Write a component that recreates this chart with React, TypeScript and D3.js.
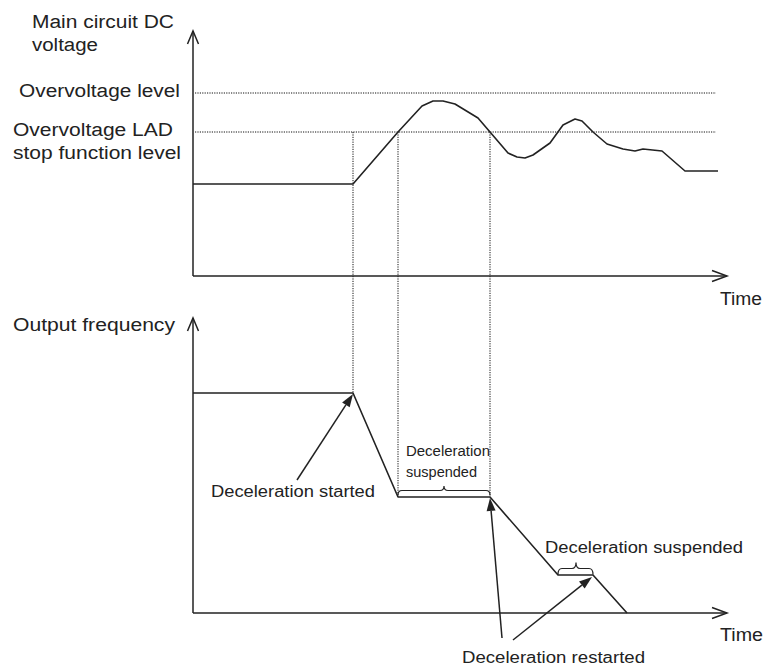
import React from "react";
import * as d3 from "d3";

// ---- data (time units, arbitrary voltage / frequency units) ----
const voltageTime = [0, 32, 41, 45.8, 48, 50, 52.4, 57, 59.4, 63, 64.8, 66.4, 68, 71.4, 74, 76.4, 77.8, 80, 82.8, 86, 88.4, 90, 93.8, 98.4, 105];
const voltageValue = [46, 46, 72, 85, 87.5, 87.5, 86, 79, 72, 61.5, 59.5, 59, 60.5, 66.5, 75.5, 78.5, 77.5, 72, 66, 63.5, 62.5, 63.5, 62.5, 52.5, 52.5];
const levelNames = ["Overvoltage level", "Overvoltage LAD stop function level"];
const levelValues = [91.5, 72];
const freqTime = [0, 32, 41, 59.4, 73, 80, 86.8];
const freqValue = [110, 110, 58, 58, 19, 19, 0];
const markerTimes = [32, 41, 59.4];
const suspendStart = [41, 73];
const suspendEnd = [59.4, 80];
const suspendFreq = [58, 19];

const INK = "#222";
const FONT = "'Liberation Sans', Arial, Helvetica, sans-serif";

export default function App() {
  const x = d3.scaleLinear().domain([0, 106.8]).range([193, 727]);
  const yV = d3.scaleLinear().domain([0, 100]).range([276, 76]);
  const yF = d3.scaleLinear().domain([0, 100]).range([613, 413]);

  const vLine = d3
    .line<number>()
    .x((_, i) => x(voltageTime[i]))
    .y((_, i) => yV(voltageValue[i]));
  const fLine = d3
    .line<number>()
    .x((_, i) => x(freqTime[i]))
    .y((_, i) => yF(freqValue[i]));

  const freqAt = (t: number) => {
    const i = freqTime.indexOf(t);
    if (i >= 0) return freqValue[i];
    return d3.scaleLinear().domain(freqTime).range(freqValue)(t);
  };

  const brace = (x1: number, x2: number, y: number, h: number, xm?: number) => {
    const m = xm ?? (x1 + x2) / 2;
    const r = Math.min(4, (m - x1) / 2);
    const half = h / 2;
    return `M${x1},${y} Q${x1},${y - half} ${x1 + r},${y - half} L${m - r},${y - half} Q${m},${y - half} ${m},${y - h} Q${m},${y - half} ${m + r},${y - half} L${x2 - r},${y - half} Q${x2},${y - half} ${x2},${y}`;
  };

  const arrow = (x1: number, y1: number, x2: number, y2: number, key: string) => {
    const ang = Math.atan2(y2 - y1, x2 - x1);
    const L = 13;
    const W = 4.5;
    const bx = x2 - L * Math.cos(ang);
    const by = y2 - L * Math.sin(ang);
    const px = -Math.sin(ang) * W;
    const py = Math.cos(ang) * W;
    return (
      <g key={key}>
        <line x1={x1} y1={y1} x2={bx} y2={by} stroke={INK} strokeWidth={1.5} />
        <path d={`M${x2},${y2} L${bx + px},${by + py} L${bx - px},${by - py} Z`} fill={INK} />
      </g>
    );
  };

  const axisArrows = (x0: number, yTop: number, yBase: number, xEnd: number, key: string) => (
    <g key={key} fill="none" stroke={INK} strokeWidth={1.5}>
      <line x1={x0} y1={yBase} x2={x0} y2={yTop} />
      <path d={`M${x0 - 5.5},${yTop + 13} L${x0},${yTop} L${x0 + 5.5},${yTop + 13}`} />
      <line x1={x0} y1={yBase} x2={xEnd} y2={yBase} />
      <path d={`M${xEnd - 15},${yBase - 5.5} L${xEnd},${yBase} L${xEnd - 15},${yBase + 5.5}`} />
    </g>
  );

  const txt = (s: string, tx: number, ty: number, size: number, len: number, key: string) => (
    <text
      key={key}
      x={tx}
      y={ty}
      fontSize={size}
      textLength={len}
      lengthAdjust="spacingAndGlyphs"
      fill={INK}
    >
      {s}
    </text>
  );

  const DOT = "1.2 1.2";

  return (
    <svg
      width={767}
      height={667}
      style={{ position: "absolute", left: 0, top: 0, background: "#fff" }}
      fontFamily={FONT}
    >
      <rect width={767} height={667} fill="#fff" />
      {/* level dotted lines */}
      {levelValues.map((v, i) => (
        <line
          key={levelNames[i]}
          x1={x(0.4)}
          x2={x(104.6)}
          y1={yV(v)}
          y2={yV(v)}
          stroke="#111"
          strokeWidth={1}
          strokeDasharray={DOT}
        />
      ))}
      {/* vertical dotted markers */}
      {markerTimes.map((t) => (
        <line
          key={"m" + t}
          x1={x(t)}
          x2={x(t)}
          y1={yV(levelValues[1])}
          y2={yF(freqAt(t))}
          stroke="#111"
          strokeWidth={1}
          strokeDasharray={DOT}
        />
      ))}
      {axisArrows(193, 31, 276, 727, "ax1")}
      {axisArrows(193, 318, 613, 727, "ax2")}
      <path d={vLine(voltageTime) ?? ""} fill="none" stroke={INK} strokeWidth={1.6} strokeLinejoin="round" />
      <path d={fLine(freqTime) ?? ""} fill="none" stroke={INK} strokeWidth={1.6} strokeLinejoin="round" />
      {/* braces */}
      <path d={brace(x(suspendStart[0]), x(suspendEnd[0]), yF(suspendFreq[0]) - 2, 9)} fill="none" stroke={INK} strokeWidth={1.2} />
      <path d={brace(x(suspendStart[1]), x(suspendEnd[1]), yF(suspendFreq[1]) - 0.5, 12, x(suspendStart[1]) + 18)} fill="none" stroke={INK} strokeWidth={1.2} />
      {/* annotation arrows */}
      {arrow(297, 480, x(freqTime[1]), yF(freqValue[1]) + 1, "a1")}
      {arrow(502, 638, x(freqTime[3]), yF(freqValue[3]) + 1, "a2")}
      {arrow(513, 640, x(freqTime[5]) - 1, yF(freqValue[5]) + 2, "a3")}
      {/* texts */}
      {txt("Main circuit DC", 32, 28, 18, 142, "t1")}
      {txt("voltage", 32, 51, 18, 66, "t2")}
      {txt(levelNames[0], 19, 97, 18, 161, "t3")}
      {txt("Overvoltage LAD", 13, 136, 18, 160, "t4")}
      {txt("stop function level", 13, 159, 18, 168, "t5")}
      {txt("Time", 720, 305, 18, 42, "t6")}
      {txt("Output frequency", 13, 331, 18, 162, "t7")}
      {txt("Time", 720, 641, 18, 43, "t8")}
      {txt("Deceleration started", 211, 497, 16, 164, "t9")}
      {txt("Deceleration", 406, 456, 15.5, 84, "t10")}
      {txt("suspended", 406, 477, 15.5, 71, "t11")}
      {txt("Deceleration suspended", 545, 553, 16, 198, "t12")}
      {txt("Deceleration restarted", 462, 663, 16, 183, "t13")}
    </svg>
  );
}
